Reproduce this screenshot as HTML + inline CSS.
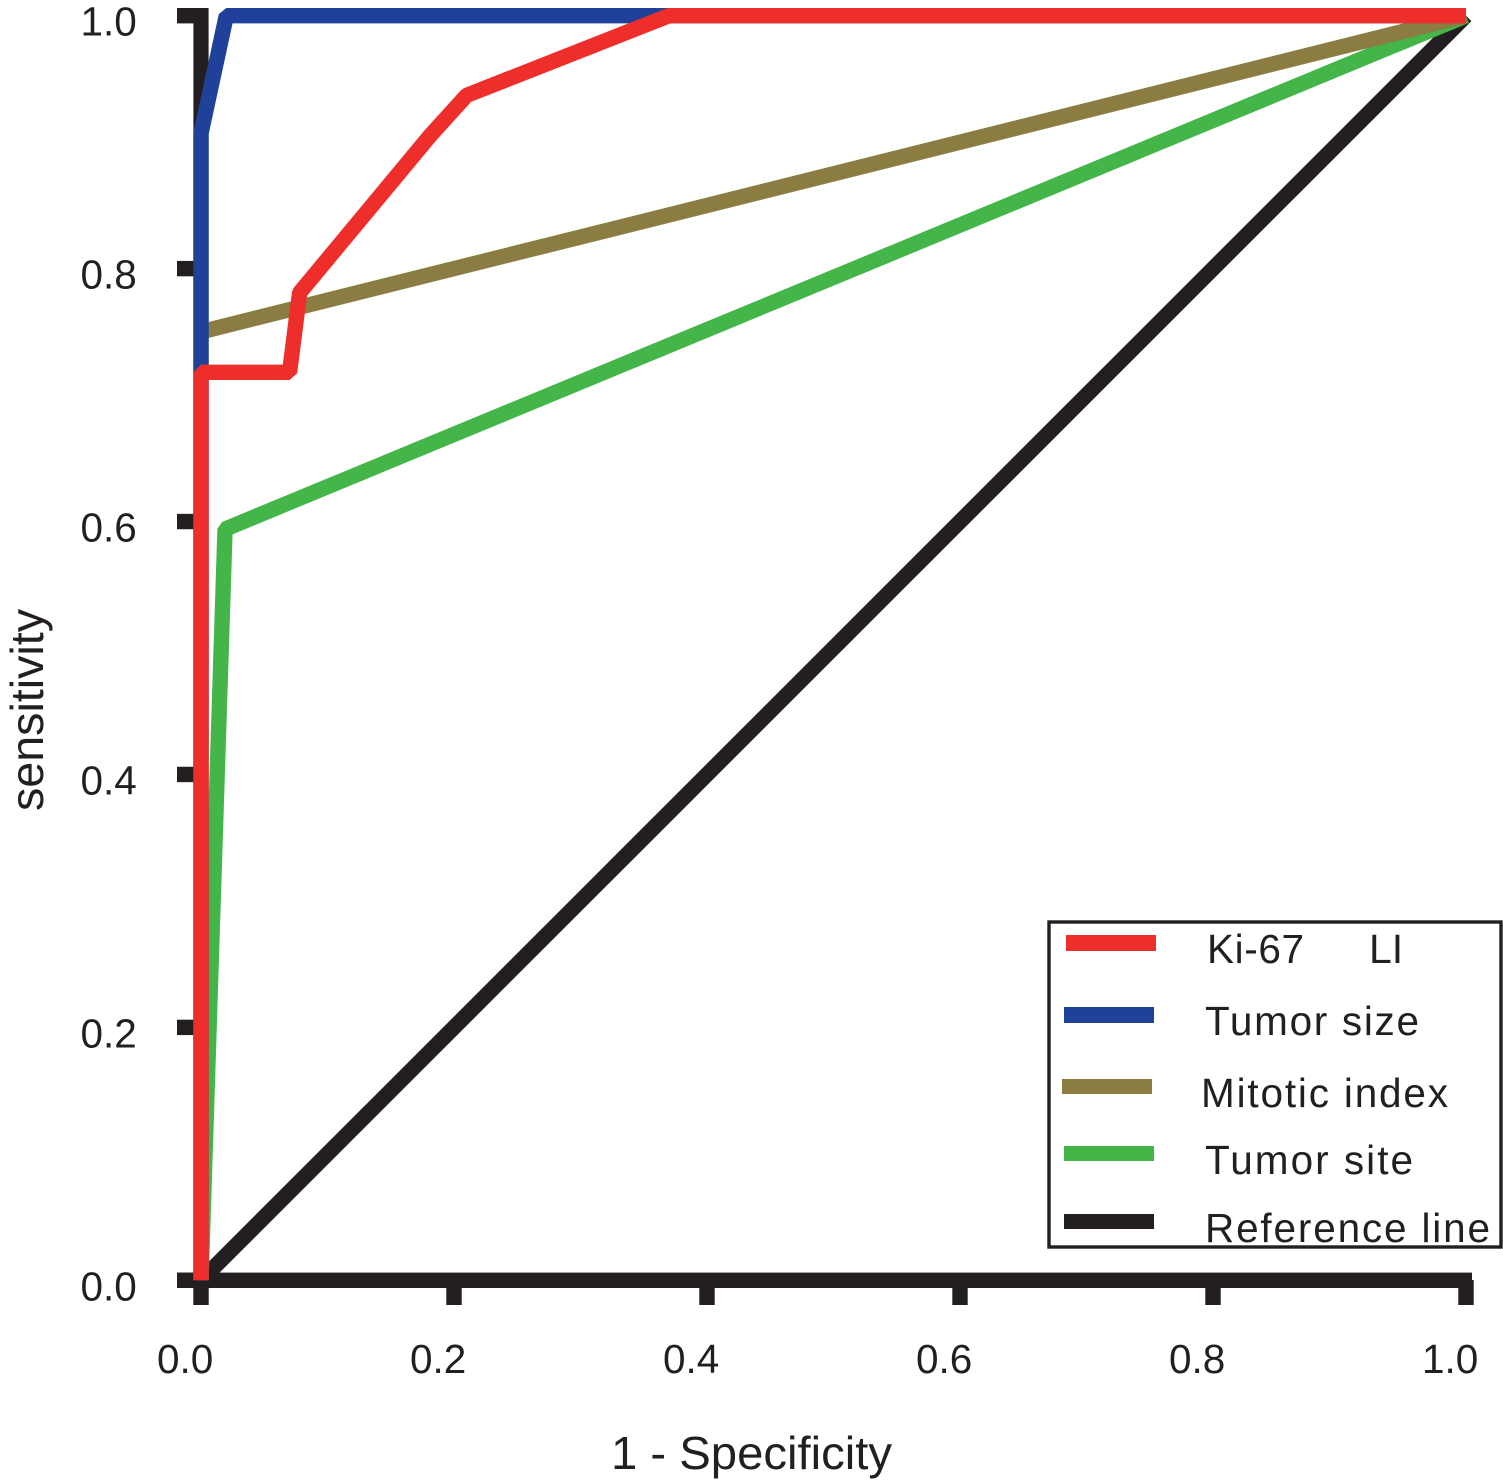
<!DOCTYPE html>
<html lang="en">
<head>
<meta charset="utf-8">
<title>ROC curves</title>
<style>
  html, body { margin: 0; padding: 0; background: #fff; }
  svg { display: block; }
  text { font-family: "Liberation Sans", Arial, sans-serif; fill: #231f20; }
</style>
</head>
<body>
<svg id="chart" xmlns="http://www.w3.org/2000/svg" width="1503" height="1481" viewBox="0 0 1503 1481">
  <rect x="0" y="0" width="1503" height="1481" fill="#ffffff"/>
  <g id="axes"></g>
  <g id="series"></g>
  <text x="611" y="1469" font-size="46" textLength="281" lengthAdjust="spacingAndGlyphs">1 - Specificity</text>
  <text transform="translate(43 811) rotate(-90)" font-size="46" textLength="202" lengthAdjust="spacingAndGlyphs">sensitivity</text>
  <g>
    <rect x="1049" y="922" width="452" height="325" fill="#ffffff" stroke="#231f20" stroke-width="3.4"/>
    <rect x="1066" y="935" width="90" height="16" fill="#ee2e2b"/>
    <text x="1207" y="963" font-size="40.5" textLength="97" lengthAdjust="spacing">Ki-67</text>
    <text x="1369" y="963" font-size="41">LI</text>
    <rect x="1064" y="1007" width="90" height="16" fill="#1f419a"/>
    <text x="1205" y="1035" font-size="40.5" textLength="214" lengthAdjust="spacing">Tumor size</text>
    <rect x="1062" y="1079" width="90" height="15" fill="#8b7d42"/>
    <text x="1201" y="1107" font-size="40.5" textLength="247" lengthAdjust="spacing">Mitotic index</text>
    <rect x="1064" y="1146" width="90" height="15" fill="#43b549"/>
    <text x="1205" y="1174" font-size="40.5" textLength="208" lengthAdjust="spacing">Tumor site</text>
    <rect x="1064" y="1214" width="90" height="15" fill="#231f20"/>
    <text x="1205" y="1242" font-size="40.5" textLength="285" lengthAdjust="spacing">Reference line</text>
  </g>
</svg>
<script>
const xTicks = [0.0, 0.2, 0.4, 0.6, 0.8, 1.0];
const yTicks = [0.0, 0.2, 0.4, 0.6, 0.8, 1.0];
const xTickLabels = ['0.0', '0.2', '0.4', '0.6', '0.8', '1.0'];
const yTickLabels = ['0.0', '0.2', '0.4', '0.6', '0.8', '1.0'];

const referenceX = [0, 1];
const referenceY = [0, 1];
const tumorSiteX = [0, 0.019, 1];
const tumorSiteY = [0, 0.594, 1];
const mitoticX = [0, 1];
const mitoticY = [0.75, 1];
const tumorSizeX = [0, 0, 0.02, 1];
const tumorSizeY = [0, 0.907, 1, 1];
const ki67X = [0, 0, 0.07, 0.078, 0.181, 0.21, 0.37, 1];
const ki67Y = [0, 0.718, 0.718, 0.781, 0.905, 0.937, 1, 1];

const NS = 'http://www.w3.org/2000/svg';
const INK = '#231f20';
const xScale = v => 201 + v * 1265;
const yScale = v => 1280.3 - v * 1264.6;
const axesGroup = document.getElementById('axes');
const seriesGroup = document.getElementById('series');

function makeRect(x, y, w, h) {
  const r = document.createElementNS(NS, 'rect');
  r.setAttribute('x', x);
  r.setAttribute('y', y);
  r.setAttribute('width', w);
  r.setAttribute('height', h);
  r.setAttribute('fill', INK);
  axesGroup.appendChild(r);
  return r;
}
function makeLabel(x, y, str) {
  const t = document.createElementNS(NS, 'text');
  t.setAttribute('x', x);
  t.setAttribute('y', y);
  t.setAttribute('font-size', '40.5');
  t.textContent = str;
  axesGroup.appendChild(t);
  return t;
}

const xAxisLine = makeRect(177, 1272.6, 1295, 15.4);


const yAxisLine = makeRect(193.4, yScale(1) - 7.7, 15.2, 1265 + 7);



xTicks.forEach((v, i) => {
  const tick = makeRect(xScale(v) - 7.7, 1280, 15.4, 25);
  
  
  const label = makeLabel(xScale(v) - 44, 1373, xTickLabels[i]);
  
  
});
yTicks.forEach((v, i) => {
  const tick = makeRect(177, yScale(v) - 7.7, 20, 15.4);
  
  
  const label = makeLabel(80.5, yScale(v) + 20, yTickLabels[i]);
  
  
});

function drawSeries(xs, ys, color) {
  const p = document.createElementNS(NS, 'polyline');
  p.setAttribute('points', xs.map((x, i) => xScale(x) + ',' + yScale(ys[i])).join(' '));
  p.setAttribute('fill', 'none');
  p.setAttribute('stroke', color);
  p.setAttribute('stroke-width', '15.4');
  p.setAttribute('stroke-linejoin', 'bevel');
  p.setAttribute('stroke-linecap', 'butt');
  seriesGroup.appendChild(p);
  return p;
}

const referenceLine = drawSeries(referenceX, referenceY, INK);


const tumorSiteLine = drawSeries(tumorSiteX, tumorSiteY, '#43b549');


const mitoticLine = drawSeries(mitoticX, mitoticY, '#8b7d42');


const tumorSizeLine = drawSeries(tumorSizeX, tumorSizeY, '#1f419a');


const ki67Line = drawSeries(ki67X, ki67Y, '#ee2e2b');


</script>
</body>
</html>
